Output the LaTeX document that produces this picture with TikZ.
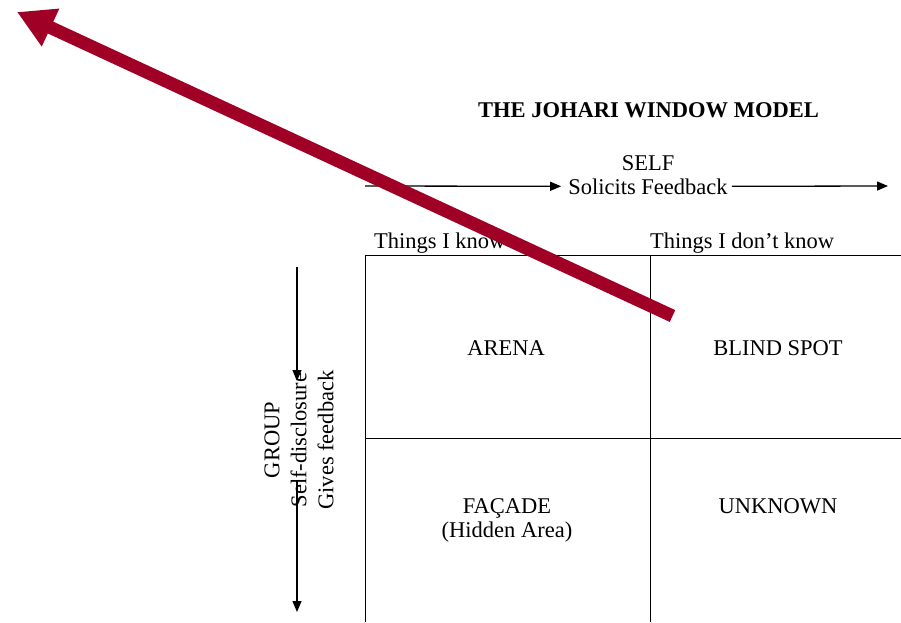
\documentclass[tikz,border=0pt]{standalone}
\usepackage{fontspec}
\setmainfont{Liberation Serif}
\usetikzlibrary{arrows.meta}
\definecolor{wine}{RGB}{160,0,38}
\begin{document}
\begin{tikzpicture}[x=1pt,y=-1pt,
  txt/.style={inner sep=0pt,font=\fontsize{22.5}{27}\selectfont},
  ttl/.style={inner sep=0pt,font=\fontsize{22.5}{27}\selectfont\bfseries},
  grid/.style={draw=black,line width=1pt},
  flow/.style={draw=black,line width=1.3pt,-{Triangle[length=11pt,width=9pt]}},
  bigarrow/.style={draw=wine,line width=13pt,-{Triangle[length=37pt,width=39pt]}}]
\useasboundingbox (0,0) rectangle (901,622);
\fill[white] (0,0) rectangle (901,622);

% title and column headings
\node[ttl,anchor=base] (title) at (648.5,117) {THE JOHARI WINDOW MODEL};
\node[txt,anchor=base] (self) at (648,170) {SELF};
\node[txt,anchor=base] (solicits) at (648,194) {Solicits Feedback};
\node[txt,anchor=base west] (know) at (374,248) {Things I know};
\node[txt,anchor=base west] (dontknow) at (650,248) {Things I don’t know};

% the window grid
\coordinate (tl) at (365,255);
\coordinate (tr) at (901,255);
\coordinate (ml) at (365,438);
\coordinate (mr) at (901,438);
\coordinate (bl) at (365,622);
\coordinate (tm) at (650,255);
\coordinate (bm) at (650,622);
\draw[grid] (tl) -- (tr);
\draw[grid] (ml) -- (mr);
\draw[grid] (tl) -- (bl);
\draw[grid] (tm) -- (bm);

% quadrant labels
\node[txt,anchor=base] (arena) at (506,355) {ARENA};
\node[txt,anchor=base] (blind) at (778,355) {BLIND SPOT};
\node[txt,anchor=base] (facade) at (507,513) {FAÇADE};
\node[txt,anchor=base] (hidden) at (507,537) {(Hidden Area)};
\node[txt,anchor=base] (unknown) at (778,513) {UNKNOWN};

% horizontal feedback arrows
\coordinate (selfstart) at (365,186);
\coordinate (selfend) at (888,186);
\draw[flow] (selfstart) -- ([xshift=-7pt]solicits.west);
\draw[flow] ([xshift=4pt]solicits.east) -- (selfend);

% vertical group label and arrows
\node[txt,rotate=90,align=center] (group) at (299,440) {GROUP\\Self-disclosure\\Gives feedback};
\coordinate (g1a) at (297,267);
\coordinate (g1b) at (297,381);
\coordinate (g2a) at (297,480);
\coordinate (g2b) at (297,612);
\draw[flow] (g1a) -- (g1b);
\draw[flow] (g2a) -- (g2b);

% large overlay arrow
\coordinate (redstart) at (672.5,316);
\coordinate (redtip) at (17,12);
\draw[bigarrow] (redstart) -- (redtip);
\end{tikzpicture}
\end{document}
